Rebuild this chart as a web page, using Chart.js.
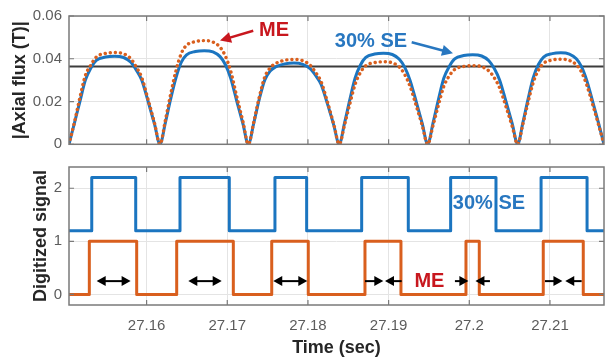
<!DOCTYPE html>
<html><head><meta charset="utf-8">
<script src="https://cdn.jsdelivr.net/npm/chart.js@4"></script>
<style>
html,body{margin:0;padding:0;background:#fff;}
#wrap{position:relative;width:605px;height:362px;background:#fff;}
canvas{position:absolute;left:0;top:0;}
</style></head><body>
<div id="wrap"><canvas id="c1" width="605" height="362"></canvas><canvas id="c2" width="605" height="362"></canvas></div>
<script>
// ---------------- DATA ----------------
const tMin = 27.15038, tMax = 27.2167;
const xTickVals = [27.16, 27.17, 27.18, 27.19, 27.2, 27.21];
const fluxTicks = [0, 0.02, 0.04, 0.06];
const digitTicks = [0, 1, 2];
const refLevel = 0.0364;

const fluxTime = [
27.15038,27.15106,27.15173,27.15241,27.15309,27.15376,27.15489,27.15602,27.15715,27.15805,27.15873,27.15940,27.16019,27.16098,
27.16166,27.16232,27.16297,27.16363,27.16429,27.16495,27.16604,27.16714,27.16823,27.16911,27.16976,27.17042,27.17119,27.17195,
27.17261,27.17329,27.17396,27.17464,27.17531,27.17599,27.17712,27.17825,27.17937,27.18027,27.18095,27.18163,27.18241,27.18320,
27.18388,27.18454,27.18520,27.18585,27.18651,27.18717,27.18826,27.18936,27.19046,27.19133,27.19199,27.19265,27.19342,27.19418,
27.19484,27.19551,27.19618,27.19685,27.19752,27.19819,27.19930,27.20042,27.20154,27.20243,27.20310,27.20377,27.20455,27.20533,
27.20600,27.20664,27.20728,27.20792,27.20857,27.20921,27.21028,27.21135,27.21241,27.21327,27.21391,27.21455,27.21530,27.21605,
27.21669];
const fluxSE = [
0,0.010,0.020,0.030,0.0357,0.0392,0.0408,0.0412,0.0406,0.0384,0.0347,0.030,0.020,0.0095,
0,0.010,0.021,0.031,0.0383,0.0418,0.0434,0.0438,0.0432,0.0410,0.0373,0.031,0.020,0.0095,
0,0.010,0.021,0.030,0.0342,0.0362,0.0376,0.0380,0.0374,0.0354,0.0322,0.028,0.019,0.009,
0,0.010,0.021,0.031,0.0371,0.0406,0.0422,0.0426,0.0420,0.0398,0.0361,0.030,0.020,0.0095,
0,0.010,0.021,0.031,0.0364,0.0399,0.0415,0.0419,0.0413,0.0391,0.0354,0.030,0.020,0.0095,
0,0.010,0.021,0.031,0.0373,0.0408,0.0424,0.0428,0.0422,0.0400,0.0363,0.030,0.020,0.0095,
0];
const fluxME = [
0,0.0104,0.0218,0.0322,0.0371,0.0408,0.0425,0.0429,0.0423,0.0400,0.0361,0.0312,0.0208,0.0099,
0,0.0111,0.0232,0.0343,0.0424,0.0463,0.0480,0.0485,0.0478,0.0454,0.0413,0.0343,0.0221,0.0105,
0,0.0105,0.0219,0.0314,0.0357,0.0378,0.0393,0.0397,0.0391,0.0370,0.0336,0.0293,0.0199,0.0094,
0,0.0091,0.0190,0.0281,0.0336,0.0368,0.0382,0.0386,0.0381,0.0361,0.0327,0.0272,0.0181,0.0086,
0,0.0088,0.0184,0.0272,0.0320,0.0350,0.0364,0.0368,0.0363,0.0343,0.0311,0.0263,0.0176,0.0083,
0,0.0093,0.0195,0.0288,0.0347,0.0379,0.0394,0.0398,0.0392,0.0372,0.0338,0.0279,0.0186,0.0088,
0];

const seTime  = [27.15038,27.15320,27.15865,27.16414,27.17025,27.17591,27.17984,27.18666,27.19244,27.19769,27.20331,27.20890,27.21460,27.2167];
const seLevel = [1.2,2.2,1.2,2.2,1.2,2.2,1.2,2.2,1.2,2.2,1.2,2.2,1.2,1.2];
const meTime  = [27.15038,27.15290,27.15877,27.16373,27.17075,27.17551,27.18004,27.18707,27.19153,27.19959,27.20124,27.20917,27.21413,27.2167];
const meLevel = [0,1,0,1,0,1,0,1,0,1,0,1,0,0];

// arrows in the digitized plot: [fromTime, toTime, doubleHeaded]
const arrowLevel = 0.25;
const digitArrows = [
  [27.15381,27.15802,true],[27.16517,27.16931,true],[27.17570,27.17992,true],
  [27.18707,27.18934,false],[27.19162,27.18955,false],
  [27.19822,27.19989,false],[27.20256,27.20076,false],
  [27.20938,27.21155,false],[27.21393,27.21190,false]
];
// text labels: [text, time, value, colorKey]
const topLabels = [['ME',27.17579,0.0532,'red'],['30% SE',27.18781,0.0482,'blue']];
const topArrows = [[27.17322,0.0531,27.16910,0.0485,'red'],[27.19286,0.0477,27.19798,0.0426,'blue']];
const bottomLabels = [['30% SE',27.20244,1.716,'blue'],['ME',27.19506,0.249,'red']];

// ---------------- STYLE ----------------
const FONT = "'Liberation Sans', Arial, sans-serif";
const C = {blue:'#1b75c0', orange:'#d95f1e', red:'#c8171e', blueTxt:'#2877c0',
  grid:'#e4e4e4', border:'#7a7a7a', tick:'#5c5c5c', title:'#262626', ref:'#3c3c3c'};
const colorOf = k => k === 'red' ? C.red : C.blueTxt;

function drawArrow(ctx, x1, y1, x2, y2, both, color, lw, len, half){
  const a = Math.atan2(y2-y1, x2-x1), ca = Math.cos(a), sa = Math.sin(a);
  ctx.save();
  ctx.strokeStyle = color; ctx.fillStyle = color; ctx.lineWidth = lw;
  ctx.beginPath();
  ctx.moveTo(both ? x1 + len*0.7*ca : x1, both ? y1 + len*0.7*sa : y1);
  ctx.lineTo(x2 - len*0.7*ca, y2 - len*0.7*sa);
  ctx.stroke();
  const head = (px, py, ang) => {
    const c = Math.cos(ang), s = Math.sin(ang);
    ctx.beginPath(); ctx.moveTo(px, py);
    ctx.lineTo(px - len*c + half*s, py - len*s - half*c);
    ctx.lineTo(px - len*c - half*s, py - len*s + half*c);
    ctx.closePath(); ctx.fill();
  };
  head(x2, y2, a);
  if (both) head(x1, y1, a + Math.PI);
  ctx.restore();
}

const boxPlugin = {
  id: 'box',
  afterDatasetsDraw(chart){
    const {ctx, chartArea: a, scales} = chart;
    ctx.save();
    ctx.strokeStyle = C.border; ctx.lineWidth = 1.5;
    ctx.strokeRect(a.left, a.top, a.right - a.left, a.bottom - a.top);
    ctx.lineWidth = 1.2;
    ctx.beginPath();
    scales.x.ticks.forEach(t => {
      const px = scales.x.getPixelForValue(t.value);
      ctx.moveTo(px, a.bottom); ctx.lineTo(px, a.bottom - 5);
      ctx.moveTo(px, a.top); ctx.lineTo(px, a.top + 5);
    });
    scales.y.ticks.forEach(t => {
      const py = scales.y.getPixelForValue(t.value);
      ctx.moveTo(a.left, py); ctx.lineTo(a.left + 5, py);
      ctx.moveTo(a.right, py); ctx.lineTo(a.right - 5, py);
    });
    ctx.stroke();
    ctx.restore();
  }
};

const annotTop = {
  id: 'annotTop',
  afterDraw(chart){
    const {ctx, scales:{x, y}} = chart;
    ctx.save();
    ctx.font = `bold 20px ${FONT}`; ctx.textAlign = 'center'; ctx.textBaseline = 'middle';
    topLabels.forEach(([s, t, v, k]) => { ctx.fillStyle = colorOf(k); ctx.fillText(s, x.getPixelForValue(t), y.getPixelForValue(v)); });
    topArrows.forEach(([t1, v1, t2, v2, k]) => drawArrow(ctx, x.getPixelForValue(t1), y.getPixelForValue(v1), x.getPixelForValue(t2), y.getPixelForValue(v2), false, colorOf(k), 2.5, 11, 5.5));
    ctx.restore();
  }
};
const annotBottom = {
  id: 'annotBottom',
  afterDraw(chart){
    const {ctx, scales:{x, y}} = chart;
    ctx.save();
    ctx.font = `bold 20px ${FONT}`; ctx.textAlign = 'center'; ctx.textBaseline = 'middle';
    bottomLabels.forEach(([s, t, v, k]) => { ctx.fillStyle = colorOf(k); ctx.fillText(s, x.getPixelForValue(t), y.getPixelForValue(v)); });
    digitArrows.forEach(([t1, t2, both]) => { const py = y.getPixelForValue(arrowLevel);
      drawArrow(ctx, x.getPixelForValue(t1), py, x.getPixelForValue(t2), py, both, '#000', 2, 9, 5); });
    ctx.restore();
  }
};

function xAxis(showLabels){
  return {
    type: 'linear', min: tMin, max: tMax,
    afterBuildTicks: s => { s.ticks = xTickVals.map(v => ({value: v})); },
    grid: {color: C.grid, drawTicks: false, lineWidth: 1},
    border: {display: false},
    ticks: {display: showLabels, color: C.tick, font: {family: FONT, size: 15}, padding: 12,
      maxRotation: 0, autoSkip: false, callback: v => String(+(+v).toFixed(4))},
    title: {display: showLabels, text: 'Time (sec)', color: C.title,
      font: {family: FONT, size: 18, weight: 'bold'}, padding: {top: 0, bottom: 3}},
    afterFit: s => { s.height = showLabels ? 57 : 0; }
  };
}
function yAxis(min, max, tickVals, title, titlePad){
  return {
    type: 'linear', min, max,
    afterBuildTicks: s => { s.ticks = tickVals.map(v => ({value: v})); },
    grid: {color: C.grid, drawTicks: false, lineWidth: 1},
    border: {display: false},
    ticks: {color: C.tick, font: {family: FONT, size: 15}, padding: 7, callback: v => String(+(+v).toFixed(4))},
    title: {display: true, text: title, color: C.title,
      font: {family: FONT, size: 18, weight: 'bold'}, padding: {top: titlePad, bottom: 0}},
    afterFit: s => { s.width = 69; }
  };
}
const common = {responsive: false, animation: false, devicePixelRatio: 1,
  plugins: {legend: {display: false}, tooltip: {enabled: false}}};

const pts = (xs, ys) => xs.map((t, i) => ({x: t, y: ys[i]}));

new Chart(document.getElementById('c1'), {
  type: 'line',
  data: {datasets: [
    {data: pts(fluxTime, fluxME), borderColor: C.orange, borderWidth: 3.4, borderDash: [0.1, 5],
     borderCapStyle: 'round', pointRadius: 0, cubicInterpolationMode: 'monotone', tension: 0.4},
    {data: pts(fluxTime, fluxSE), borderColor: C.blue, borderWidth: 3, pointRadius: 0,
     cubicInterpolationMode: 'monotone', tension: 0.4},
    {data: [{x: tMin, y: refLevel}, {x: tMax, y: refLevel}], borderColor: C.ref, borderWidth: 2, pointRadius: 0}
  ]},
  options: Object.assign({}, common, {
    layout: {padding: {top: 7, right: 1, bottom: 217.7, left: 0}},
    scales: {x: xAxis(false), y: yAxis(0, 0.06, fluxTicks, '|Axial flux (T)|', 9)}
  }),
  plugins: [boxPlugin, annotTop]
});

new Chart(document.getElementById('c2'), {
  type: 'line',
  data: {datasets: [
    {data: pts(seTime, seLevel), borderColor: C.blue, borderWidth: 3, pointRadius: 0, stepped: 'before', borderJoinStyle: 'round'},
    {data: pts(meTime, meLevel), borderColor: C.orange, borderWidth: 3, pointRadius: 0, stepped: 'before', borderJoinStyle: 'round'}
  ]},
  options: Object.assign({}, common, {
    layout: {padding: {top: 167, right: 1, bottom: 0, left: 0}},
    scales: {x: xAxis(true), y: yAxis(-0.2, 2.4, digitTicks, 'Digitized signal', 30)}
  }),
  plugins: [boxPlugin, annotBottom]
});
</script>
</body></html>
